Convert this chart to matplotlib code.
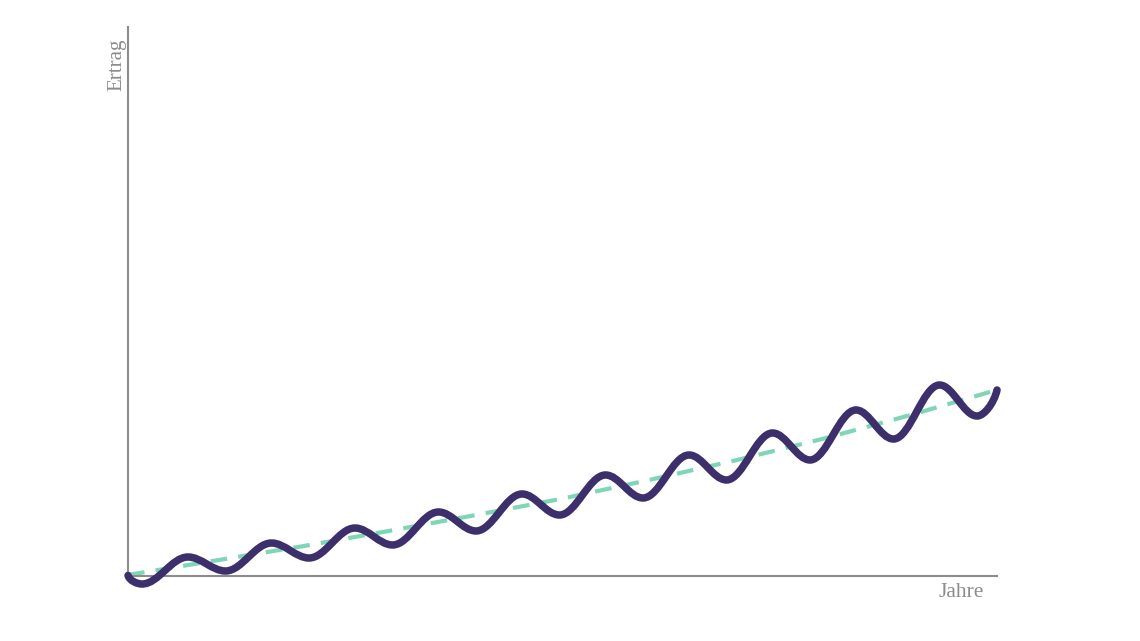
import matplotlib.pyplot as plt
from matplotlib.path import Path
from matplotlib.patches import PathPatch

plt.rcParams.update({
    'font.family': ['Liberation Serif', 'DejaVu Serif'],
    'axes.linewidth': 1.5,
})

# Ertrag (Wellenlinie): Start, Tief- und Hochpunkte, Ende
jahre = [0.0, 1.61, 6.90, 11.22, 16.51, 20.83, 26.12, 30.44, 35.73, 40.05, 45.34,
         49.65, 54.95, 59.26, 64.56, 68.87, 74.17, 78.48, 83.77, 88.09, 93.38,
         97.70, 100.0]
ertrag = [0.1, -1.46, 3.46, 0.91, 6.01, 3.28, 8.74, 5.65, 11.66, 8.20, 14.94,
          11.11, 18.40, 14.21, 22.04, 17.49, 26.05, 21.13, 30.24, 24.95, 34.79,
          29.14, 33.88]

# Trend (gestrichelt)
trend_jahre = [0, 10, 20, 30, 40, 50, 60, 70, 80, 90, 100]
trend_ertrag = [0.2, 2.8, 5.4, 8.2, 11.1, 14.1, 17.5, 21.1, 25.0, 29.3, 33.9]

fig = plt.figure(figsize=(11.4, 6.41), dpi=100)
ax = fig.add_axes([0.1123, 0.1014, 0.7623, 0.8565])

ax.plot(trend_jahre, trend_ertrag, color='#7fd6b6', lw=3.0, ls=(0, (4.0, 2.7)),
        dash_capstyle='butt', clip_on=False, zorder=2)

# glatte Kurve: kubische Bezier-Stuecke mit waagrechter Tangente an den Extrema
verts = [(jahre[0], ertrag[0])]
codes = [Path.MOVETO]
n = len(jahre)
for i in range(n - 1):
    x0, y0 = jahre[i], ertrag[i]
    x1, y1 = jahre[i + 1], ertrag[i + 1]
    dx = x1 - x0
    c1 = (x0 + 0.36 * dx, y0)
    c2 = (x1 - 0.36 * dx, y1)
    if i == 0:
        # Anfang: steil abwaerts aus der Ecke
        c1 = (x0 + 0.1 * dx, y0 + 0.6 * (y1 - y0))
    if i == n - 2:
        # Ende: steil aufwaerts
        c2 = (x1 - 0.15 * dx, y1 - 0.5 * (y1 - y0))
    verts += [c1, c2, (x1, y1)]
    codes += [Path.CURVE4] * 3
ax.add_patch(PathPatch(Path(verts, codes), fill=False, edgecolor='#3c2f6c',
                       lw=5.4, capstyle='round', joinstyle='round',
                       clip_on=False, zorder=3))

ax.set_xlim(0, 100)
ax.set_ylim(0, 100)
ax.spines['top'].set_visible(False)
ax.spines['right'].set_visible(False)
for s in ('left', 'bottom'):
    ax.spines[s].set_color('#8c8c8c')
ax.set_xticks([])
ax.set_yticks([])

fig.text(0.1026, 0.8986, 'Ertrag', rotation=90, ha='center', va='center',
         fontsize=15, color='#8c8c8c')
fig.text(0.843, 0.0764, 'Jahre', ha='center', va='center',
         fontsize=15.5, color='#8c8c8c')

fig.savefig('out.png', dpi=100, facecolor='white')
